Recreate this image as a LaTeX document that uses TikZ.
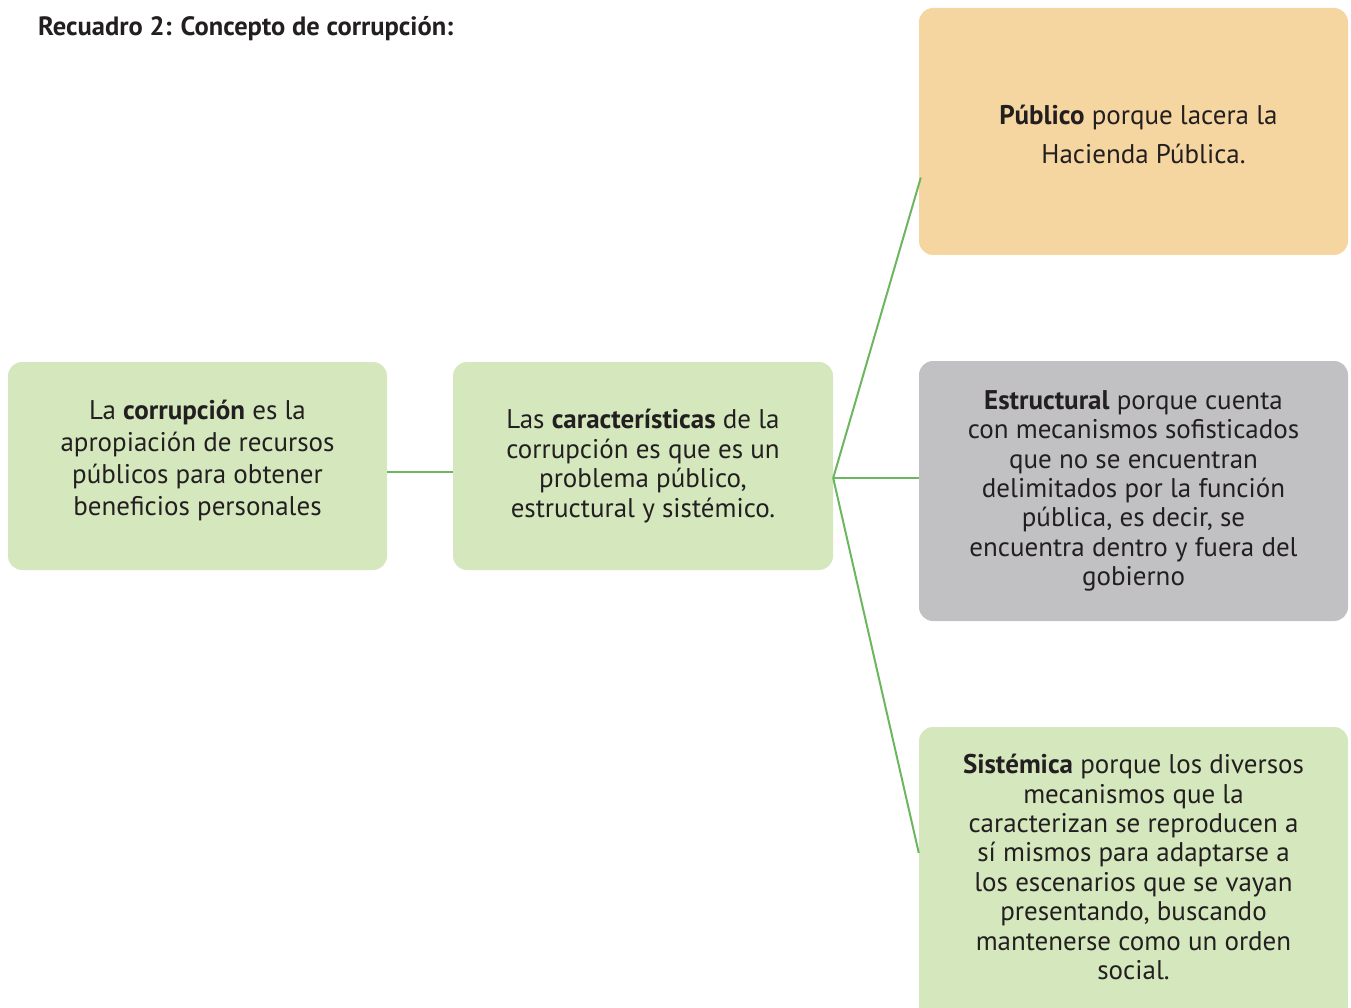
\documentclass[tikz,border=0pt]{standalone}
\usepackage{fontspec}
\setmainfont{PT Sans}
\usetikzlibrary{calc,backgrounds}
\definecolor{gfill}{HTML}{D4E7BD}
\definecolor{ofill}{HTML}{F5D6A0}
\definecolor{kfill}{HTML}{C1C1C3}
\definecolor{gline}{HTML}{6DB660}
\definecolor{ink}{HTML}{231F20}
\tikzset{
  box/.style={rounded corners=14pt, inner sep=0pt, align=center, text=ink,
    font=\fontsize{27}{29.4}\selectfont},
  conn/.style={draw=gline, line width=2pt},
}
\begin{document}
\begin{tikzpicture}[x=1pt,y=-1pt]
\useasboundingbox (0,0) rectangle (1351,1008);
\clip (0,0) rectangle (1351,1008);
\node[anchor=base west, text=ink, font=\fontsize{26.5}{30}\selectfont\bfseries, inner sep=0pt] (title) at (38,35.5) {Recuadro 2: Concepto de corrupción:};

\node[box, fill=gfill, minimum width=379pt, minimum height=208pt, font=\fontsize{27}{32}\selectfont] (def) at (197.5,466)
  {La \textbf{corrupción} es la\\apropiación de recursos\\públicos para obtener\\beneficios personales\rule[-17pt]{0pt}{17pt}};

\node[box, fill=gfill, minimum width=380pt, minimum height=208pt] (car) at (643,466)
  {Las \textbf{características} de la\\corrupción es que es un\\problema público,\\estructural y sistémico.};

\node[box, fill=ofill, minimum width=429pt, minimum height=247pt, font=\fontsize{27}{39}\selectfont] (pub) at (1133.5,131.5)
  {\rule{0pt}{26pt}\hspace*{10pt}\textbf{Público} porque lacera la\\\hspace*{20pt}Hacienda Pública.};

\node[box, fill=kfill, minimum width=429pt, minimum height=260pt] (est) at (1133.5,491)
  {\textbf{Estructural} porque cuenta\\con mecanismos sofisticados\\que no se encuentran\\delimitados por la función\\pública, es decir, se\\encuentra dentro y fuera del\\gobierno};

\fill[gfill] (919,900) rectangle (1348,1020);
\node[box, fill=gfill, minimum width=429pt, minimum height=280pt] (sis) at (1133.5,867)
  {\textbf{Sistémica} porque los diversos\\mecanismos que la\\caracterizan se reproducen a\\sí mismos para adaptarse a\\los escenarios que se vayan\\presentando, buscando\\mantenerse como un orden\\social.};

\coordinate (hub) at ($(car.east)+(0,12)$);
\coordinate (defout) at ($(def.east)+(0,6)$);
\coordinate (pubin) at ($(pub.west)+(2,46)$);
\coordinate (estin) at ($(est.west)+(0,-13)$);
\coordinate (sisin) at ($(sis.west)+(0,-14)$);

\draw[conn] (defout) -- (defout -| car.west);
\draw[conn] (hub) -- (pubin);
\draw[conn] (hub) -- (estin);
\draw[conn] (hub) -- (sisin);
\end{tikzpicture}
\end{document}
